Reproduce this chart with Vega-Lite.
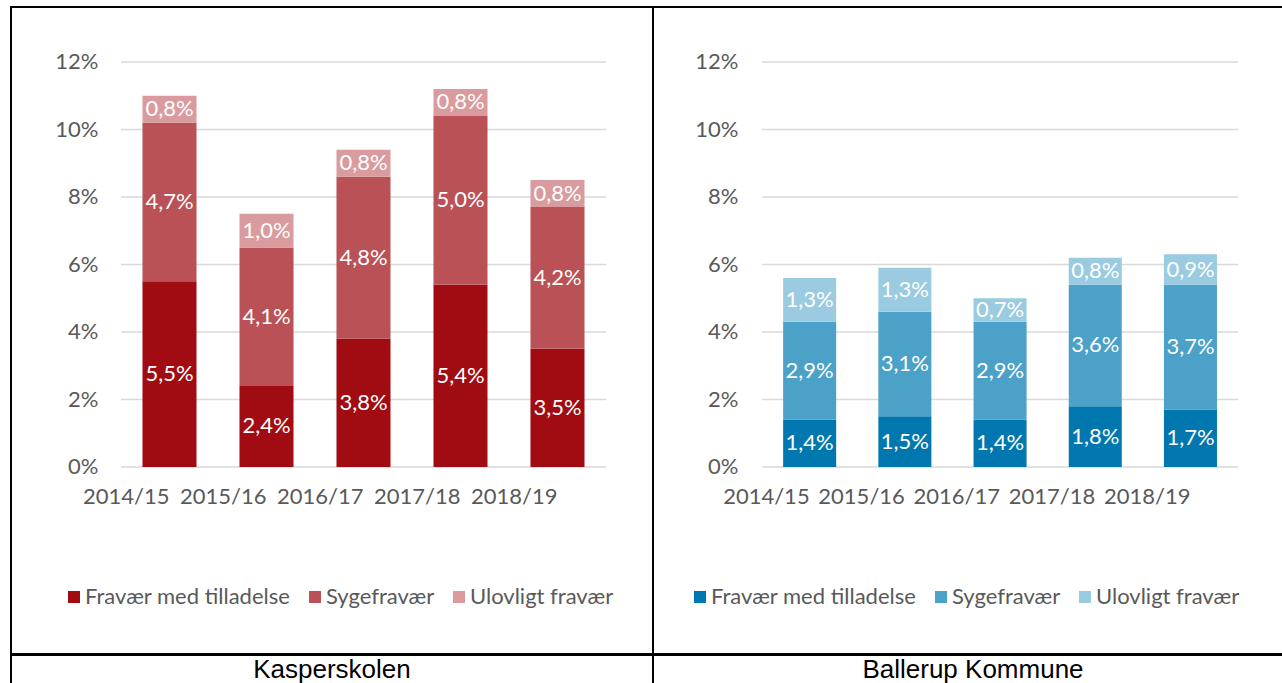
{
  "$schema": "https://vega.github.io/schema/vega-lite/v6.json",
  "padding": {"left": 9, "top": 6, "right": 0, "bottom": 0},
  "background": "white",
  "bounds": "flush",
  "spacing": 0,
  "datasets": {
    "kasper": [
      {"year": "2014/15", "type": "Fravær med tilladelse", "v": 0.055},
      {"year": "2014/15", "type": "Sygefravær", "v": 0.047},
      {"year": "2014/15", "type": "Ulovligt fravær", "v": 0.008},
      {"year": "2015/16", "type": "Fravær med tilladelse", "v": 0.024},
      {"year": "2015/16", "type": "Sygefravær", "v": 0.041},
      {"year": "2015/16", "type": "Ulovligt fravær", "v": 0.010},
      {"year": "2016/17", "type": "Fravær med tilladelse", "v": 0.038},
      {"year": "2016/17", "type": "Sygefravær", "v": 0.048},
      {"year": "2016/17", "type": "Ulovligt fravær", "v": 0.008},
      {"year": "2017/18", "type": "Fravær med tilladelse", "v": 0.054},
      {"year": "2017/18", "type": "Sygefravær", "v": 0.050},
      {"year": "2017/18", "type": "Ulovligt fravær", "v": 0.008},
      {"year": "2018/19", "type": "Fravær med tilladelse", "v": 0.035},
      {"year": "2018/19", "type": "Sygefravær", "v": 0.042},
      {"year": "2018/19", "type": "Ulovligt fravær", "v": 0.008}
    ],
    "ballerup": [
      {"year": "2014/15", "type": "Fravær med tilladelse", "v": 0.014},
      {"year": "2014/15", "type": "Sygefravær", "v": 0.029},
      {"year": "2014/15", "type": "Ulovligt fravær", "v": 0.013},
      {"year": "2015/16", "type": "Fravær med tilladelse", "v": 0.015},
      {"year": "2015/16", "type": "Sygefravær", "v": 0.031},
      {"year": "2015/16", "type": "Ulovligt fravær", "v": 0.013},
      {"year": "2016/17", "type": "Fravær med tilladelse", "v": 0.014},
      {"year": "2016/17", "type": "Sygefravær", "v": 0.029},
      {"year": "2016/17", "type": "Ulovligt fravær", "v": 0.007},
      {"year": "2017/18", "type": "Fravær med tilladelse", "v": 0.018},
      {"year": "2017/18", "type": "Sygefravær", "v": 0.036},
      {"year": "2017/18", "type": "Ulovligt fravær", "v": 0.008},
      {"year": "2018/19", "type": "Fravær med tilladelse", "v": 0.017},
      {"year": "2018/19", "type": "Sygefravær", "v": 0.037},
      {"year": "2018/19", "type": "Ulovligt fravær", "v": 0.009}
    ],
    "grid": [{"g": 0}, {"g": 0.02}, {"g": 0.04}, {"g": 0.06}, {"g": 0.08}, {"g": 0.10}, {"g": 0.12}]
  },
  "hconcat": [
    {
      "width": 642,
      "height": 683,
      "title": {"text": "Kasperskolen", "orient": "bottom", "offset": -33, "fontSize": 26, "font": "Liberation Sans", "fontWeight": "normal", "color": "black", "anchor": "middle", "frame": "group"},
      "data": {"name": "kasper"},
      "layer": [
        {
          "data": {"name": "grid"},
          "mark": {"type": "rule", "color": "#D9D9D9", "strokeWidth": 1.5},
          "encoding": {
            "y": {"field": "g", "type": "quantitative", "scale": {"domain": [-0.066074, 0.136296], "nice": false, "zero": false}, "axis": {"title": null}},
            "x": {"datum": "2014/15", "type": "nominal", "bandPosition": 0, "scale": {"domain": ["2014/15", "2015/16", "2016/17", "2017/18", "2018/19"], "paddingInner": 0, "paddingOuter": 0.8093, "align": 0.7006}, "axis": {"title": null}},
            "x2": {"datum": "2018/19", "bandPosition": 1}
          }
        },
        {
          "mark": {"type": "rule", "color": "black", "strokeWidth": 2},
          "encoding": {
            "y": {"datum": -0.0556, "type": "quantitative", "scale": {"domain": [-0.066074, 0.136296], "nice": false, "zero": false}, "axis": {"title": null}}
          }
        },
        {
          "mark": {"type": "bar", "width": {"band": 0.557}},
          "encoding": {
            "x": {"field": "year", "type": "nominal", "sort": null, "scale": {"domain": ["2014/15", "2015/16", "2016/17", "2017/18", "2018/19"], "paddingInner": 0, "paddingOuter": 0.8093, "align": 0.7006},
                  "axis": {"title": null, "orient": "bottom", "offset": -223, "labelPadding": 29, "labelAngle": 0}},
            "y": {"field": "v", "type": "quantitative", "stack": "zero", "scale": {"domain": [-0.066074, 0.136296], "nice": false, "zero": false},
                  "axis": {"title": null, "values": [0, 0.02, 0.04, 0.06, 0.08, 0.1, 0.12], "format": ".0%", "offset": -95, "labelPadding": 8}},
            "color": {"field": "type", "type": "nominal",
                      "scale": {"domain": ["Fravær med tilladelse", "Sygefravær", "Ulovligt fravær"], "range": ["#A00C12", "#BA5156", "#D99B9D"]},
                      "legend": {"orient": "none", "legendX": 52, "legendY": 579, "direction": "horizontal", "title": null}},
            "order": {"field": "type", "sort": "ascending"}
          }
        },
        {
          "transform": [
            {"stack": "v", "groupby": ["year"], "sort": [{"field": "type", "order": "ascending"}], "as": ["v0", "v1"]},
            {"fold": ["v0", "v1"], "as": ["edge", "pos"]},
            {"aggregate": [{"op": "mean", "field": "pos", "as": "mid"}], "groupby": ["year", "type", "v"]}
          ],
          "mark": {"type": "text", "color": "white", "fontSize": 22, "font": "Lato"},
          "encoding": {
            "x": {"field": "year", "type": "nominal", "sort": null, "scale": {"domain": ["2014/15", "2015/16", "2016/17", "2017/18", "2018/19"], "paddingInner": 0, "paddingOuter": 0.8093, "align": 0.7006}},
            "y": {"field": "mid", "type": "quantitative", "scale": {"domain": [-0.066074, 0.136296], "nice": false, "zero": false}, "axis": {"title": null}},
            "text": {"field": "v", "type": "quantitative", "format": ".1%"}
          }
        }
      ]
    },
    {
      "width": 640,
      "height": 683,
      "title": {"text": "Ballerup Kommune", "orient": "bottom", "offset": -33, "fontSize": 26, "font": "Liberation Sans", "fontWeight": "normal", "color": "black", "anchor": "middle", "frame": "group"},
      "data": {"name": "ballerup"},
      "layer": [
        {
          "data": {"name": "grid"},
          "mark": {"type": "rule", "color": "#D9D9D9", "strokeWidth": 1.5},
          "encoding": {
            "y": {"field": "g", "type": "quantitative", "scale": {"domain": [-0.066074, 0.136296], "nice": false, "zero": false}, "axis": {"title": null}},
            "x": {"datum": "2014/15", "type": "nominal", "bandPosition": 0, "scale": {"domain": ["2014/15", "2015/16", "2016/17", "2017/18", "2018/19"], "paddingInner": 0, "paddingOuter": 0.8613, "align": 0.665}, "axis": {"title": null}},
            "x2": {"datum": "2018/19", "bandPosition": 1}
          }
        },
        {
          "mark": {"type": "rule", "color": "black", "strokeWidth": 2},
          "encoding": {
            "y": {"datum": -0.0556, "type": "quantitative", "scale": {"domain": [-0.066074, 0.136296], "nice": false, "zero": false}, "axis": {"title": null}}
          }
        },
        {
          "mark": {"type": "bar", "width": {"band": 0.557}},
          "encoding": {
            "x": {"field": "year", "type": "nominal", "sort": null, "scale": {"domain": ["2014/15", "2015/16", "2016/17", "2017/18", "2018/19"], "paddingInner": 0, "paddingOuter": 0.8613, "align": 0.665},
                  "axis": {"title": null, "orient": "bottom", "offset": -223, "labelPadding": 29, "labelAngle": 0}},
            "y": {"field": "v", "type": "quantitative", "stack": "zero", "scale": {"domain": [-0.066074, 0.136296], "nice": false, "zero": false},
                  "axis": {"title": null, "values": [0, 0.02, 0.04, 0.06, 0.08, 0.1, 0.12], "format": ".0%", "offset": -93, "labelPadding": 8}},
            "color": {"field": "type", "type": "nominal",
                      "scale": {"domain": ["Fravær med tilladelse", "Sygefravær", "Ulovligt fravær"], "range": ["#0077AE", "#4BA1C8", "#9ACBE0"]},
                      "legend": {"orient": "none", "legendX": 36, "legendY": 579, "direction": "horizontal", "title": null}},
            "order": {"field": "type", "sort": "ascending"}
          }
        },
        {
          "transform": [
            {"stack": "v", "groupby": ["year"], "sort": [{"field": "type", "order": "ascending"}], "as": ["v0", "v1"]},
            {"fold": ["v0", "v1"], "as": ["edge", "pos"]},
            {"aggregate": [{"op": "mean", "field": "pos", "as": "mid"}], "groupby": ["year", "type", "v"]}
          ],
          "mark": {"type": "text", "color": "white", "fontSize": 22, "font": "Lato"},
          "encoding": {
            "x": {"field": "year", "type": "nominal", "sort": null, "scale": {"domain": ["2014/15", "2015/16", "2016/17", "2017/18", "2018/19"], "paddingInner": 0, "paddingOuter": 0.8613, "align": 0.665}},
            "y": {"field": "mid", "type": "quantitative", "scale": {"domain": [-0.066074, 0.136296], "nice": false, "zero": false}, "axis": {"title": null}},
            "text": {"field": "v", "type": "quantitative", "format": ".1%"}
          }
        }
      ]
    }
  ],
  "resolve": {"scale": {"color": "independent", "x": "independent", "y": "independent"}, "legend": {"color": "independent"}, "axis": {"x": "independent", "y": "independent"}},
  "config": {
    "locale": {"number": {"decimal": ",", "thousands": ".", "grouping": [3], "currency": ["", " kr."]}},
    "view": {"stroke": "black", "strokeWidth": 2},
    "axis": {"labelFont": "Lato", "labelFontSize": 22, "labelColor": "#595959", "domain": false, "ticks": false, "tickSize": 0, "grid": false},
    "legend": {"labelFont": "Lato", "labelFontSize": 22, "labelColor": "#595959", "symbolType": "square", "symbolSize": 144, "symbolStrokeWidth": 0, "columnPadding": 13, "labelOffset": 0, "labelLimit": 400}
  }
}
